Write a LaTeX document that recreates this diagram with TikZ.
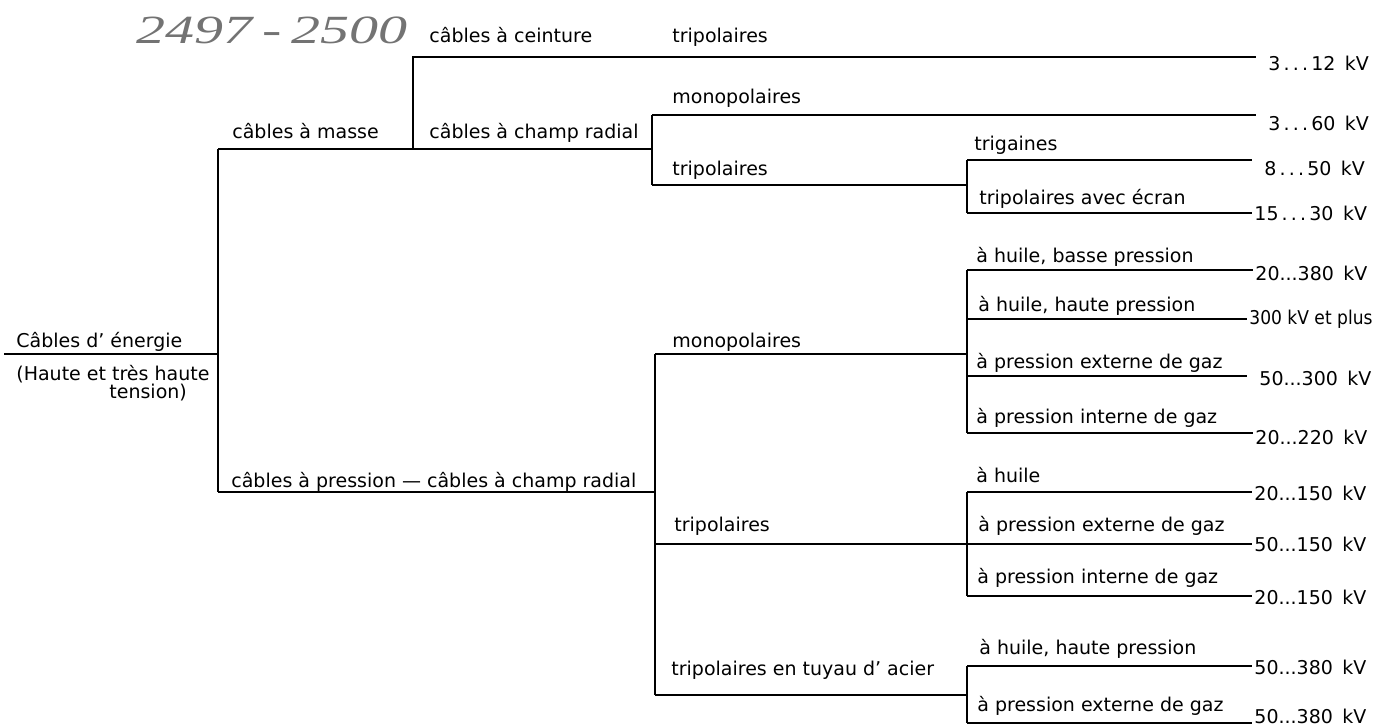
\documentclass[tikz,border=0pt]{standalone}
\usepackage{fontspec}
\setmainfont{DejaVu Sans}
\newfontfamily\handfont{Liberation Serif}
\begin{document}
\begin{tikzpicture}[x=0.5pt,y=-0.5pt,
  ln/.style={line width=1.4pt},
  lbl/.style={anchor=base west, inner sep=0pt, font=\fontsize{9.5}{11}\selectfont},
  kv/.style={anchor=west, inner sep=0pt, inner xsep=1pt, font=\fontsize{9.5}{11}\selectfont},
  kvfar/.style={kv, inner xsep=6pt}]
\useasboundingbox (0,0) rectangle (1381,727);
% junctions
\coordinate (r0) at (4,354);
\coordinate (r) at (218,354);
\coordinate (a) at (218,149);
\coordinate (b) at (218,492);
\coordinate (m) at (413,149);
\coordinate (m1) at (413,57);
\coordinate (c) at (652,149);
\coordinate (c1) at (652,115);
\coordinate (c2) at (652,185);
\coordinate (t) at (967,185);
\coordinate (t1) at (967,160);
\coordinate (t2) at (967,213);
\coordinate (p) at (655,492);
\coordinate (p1) at (655,354);
\coordinate (p2) at (655,544);
\coordinate (p3) at (655,695);
\coordinate (q) at (967,354);
\coordinate (q1) at (967,270);
\coordinate (q2) at (967,319);
\coordinate (q3) at (967,376);
\coordinate (q4) at (967,433);
\coordinate (s) at (967,544);
\coordinate (s1) at (967,492);
\coordinate (s3) at (967,596);
\coordinate (u) at (967,695);
\coordinate (u1) at (967,666);
\coordinate (u2) at (967,723);
% handwritten reference
\node[text=black!55, font=\handfont\itshape\fontsize{20}{20}\selectfont, inner sep=0pt] (hw) at (272,30) {\scalebox{1.45}[1]{2497\,-\,2500}};
% voltage values
\node[kvfar] (k1) at (1256,63) {3\,.\,.\,.\,12\enspace kV};
\node[kvfar] (k2) at (1256,123) {3\,.\,.\,.\,60\enspace kV};
\node[kvfar] (k3) at (1252,168) {8\,.\,.\,.\,50\enspace kV};
\node[kv] (k4) at (1252,213) {15\,.\,.\,.\,30\enspace kV};
\node[kv] (k5) at (1253,273) {20...380\enspace kV};
\node[kv] (k6) at (1247,319) {\scalebox{0.9}[1]{300 kV et plus}};
\node[kvfar] (k7) at (1247,378) {50...300\enspace kV};
\node[kv] (k8) at (1253,437) {20...220\enspace kV};
\node[kv] (k9) at (1252,493) {20...150\enspace kV};
\node[kv] (k10) at (1252,544) {50...150\enspace kV};
\node[kv] (k11) at (1252,597) {20...150\enspace kV};
\node[kv] (k12) at (1252,667) {50...380\enspace kV};
\node[kv] (k13) at (1252,716) {50...380\enspace kV};
% labels
\node[lbl] (l1) at (429,43) {câbles à ceinture};
\node[lbl] (l2) at (672,43) {tripolaires};
\node[lbl] (l3) at (232,139) {câbles à masse};
\node[lbl] (l4) at (429,139) {câbles à champ radial};
\node[lbl] (l5) at (672,104) {monopolaires};
\node[lbl] (l6) at (672,176) {tripolaires};
\node[lbl] (l7) at (974,151) {trigaines};
\node[lbl] (l8) at (979,205) {tripolaires avec écran};
\node[lbl] (l9) at (976,263) {à huile, basse pression};
\node[lbl] (l10) at (978,312) {à huile, haute pression};
\node[lbl] (l11) at (976,368) {à pression externe de gaz};
\node[lbl] (l12) at (976,423) {à pression interne de gaz};
\node[lbl] (l13) at (16,347) {Câbles d' énergie};
\node[lbl] (l14) at (16,380) {(Haute et très haute};
\node[lbl] (l15) at (109,398) {tension)};
\node[lbl] (l16) at (672,347) {monopolaires};
\node[lbl] (l17) at (231,487) {câbles à pression --- câbles à champ radial};
\node[lbl] (l18) at (976,482) {à huile};
\node[lbl] (l19) at (674,531) {tripolaires};
\node[lbl] (l20) at (978,531) {à pression externe de gaz};
\node[lbl] (l21) at (977,583) {à pression interne de gaz};
\node[lbl] (l22) at (671,675) {tripolaires en tuyau d' acier};
\node[lbl] (l23) at (979,654) {à huile, haute pression};
\node[lbl] (l24) at (977,711) {à pression externe de gaz};
% connectors
\draw[ln] (r0) -- (r);
\draw[ln] (a) -- (b);
\draw[ln] (a) -- (c);
\draw[ln] (m) -- (m1) -- (m1 -| k1.west);
\draw[ln] (c1) -- (c2);
\draw[ln] (c1) -- (c1 -| k2.west);
\draw[ln] (c2) -- (t);
\draw[ln] (t1) -- (t2);
\draw[ln] (t1) -- (t1 -| k3.west);
\draw[ln] (t2) -- (t2 -| k4.west);
\draw[ln] (b) -- (p);
\draw[ln] (p1) -- (p3);
\draw[ln] (p1) -- (q);
\draw[ln] (q1) -- (q4);
\draw[ln] (q1) -- (q1 -| k5.west);
\draw[ln] (q2) -- (q2 -| k6.west);
\draw[ln] (q3) -- (q3 -| k7.west);
\draw[ln] (q4) -- (q4 -| k8.west);
\draw[ln] (p2) -- (s) -- (s -| k10.west);
\draw[ln] (s1) -- (s3);
\draw[ln] (s1) -- (s1 -| k9.west);
\draw[ln] (s3) -- (s3 -| k11.west);
\draw[ln] (p3) -- (u);
\draw[ln] (u1) -- (u2);
\draw[ln] (u1) -- (u1 -| k12.west);
\draw[ln] (u2) -- (u2 -| k13.west);
\end{tikzpicture}
\end{document}
